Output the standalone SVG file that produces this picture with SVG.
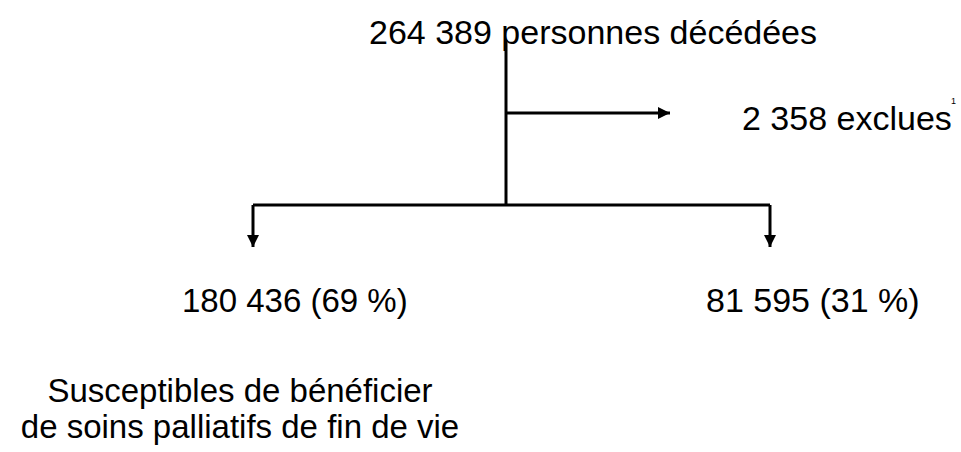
<svg xmlns="http://www.w3.org/2000/svg" width="961" height="452" viewBox="0 0 961 452">
<defs>
<style>
.t{font-family:"Liberation Sans",Arial,sans-serif;font-size:33px;fill:#000}
.b{font-size:34px}
.c{fill:none;stroke:#000;stroke-width:3}
</style>
<marker id="ah" viewBox="0 0 12 12" refX="12" refY="6" markerWidth="12" markerHeight="12" markerUnits="userSpaceOnUse" orient="auto">
<path d="M0,0 L12,6 L0,12 Z" fill="#000"/>
</marker>
</defs>
<rect width="961" height="452" fill="#fff"/>
<g id="connectors">
<path class="c" d="M506,40 V205"/>
<path class="c" d="M506,113 H670" marker-end="url(#ah)"/>
<path class="c" d="M253,205 H770"/>
<path class="c" d="M253,205 V247" marker-end="url(#ah)"/>
<path class="c" d="M770,205 V247" marker-end="url(#ah)"/>
</g>
<g id="n-total"><text class="t b" x="369" y="44">264 389 personnes décédées</text></g>
<g id="n-exclues"><text class="t b" x="742" y="130">2 358 exclues</text><text x="951" y="104" style="font-family:'Liberation Sans',Arial,sans-serif;font-size:9px">1</text></g>
<g id="n-left"><text class="t" x="182" y="312">180 436 (69 %)</text></g>
<g id="n-right"><text class="t b" x="706" y="312">81 595 (31 %)</text></g>
<g id="n-label"><text class="t" text-anchor="middle" x="240" y="402">Susceptibles de bénéficier</text><text class="t" text-anchor="middle" x="240" y="438">de soins palliatifs de fin de vie</text></g>
</svg>
